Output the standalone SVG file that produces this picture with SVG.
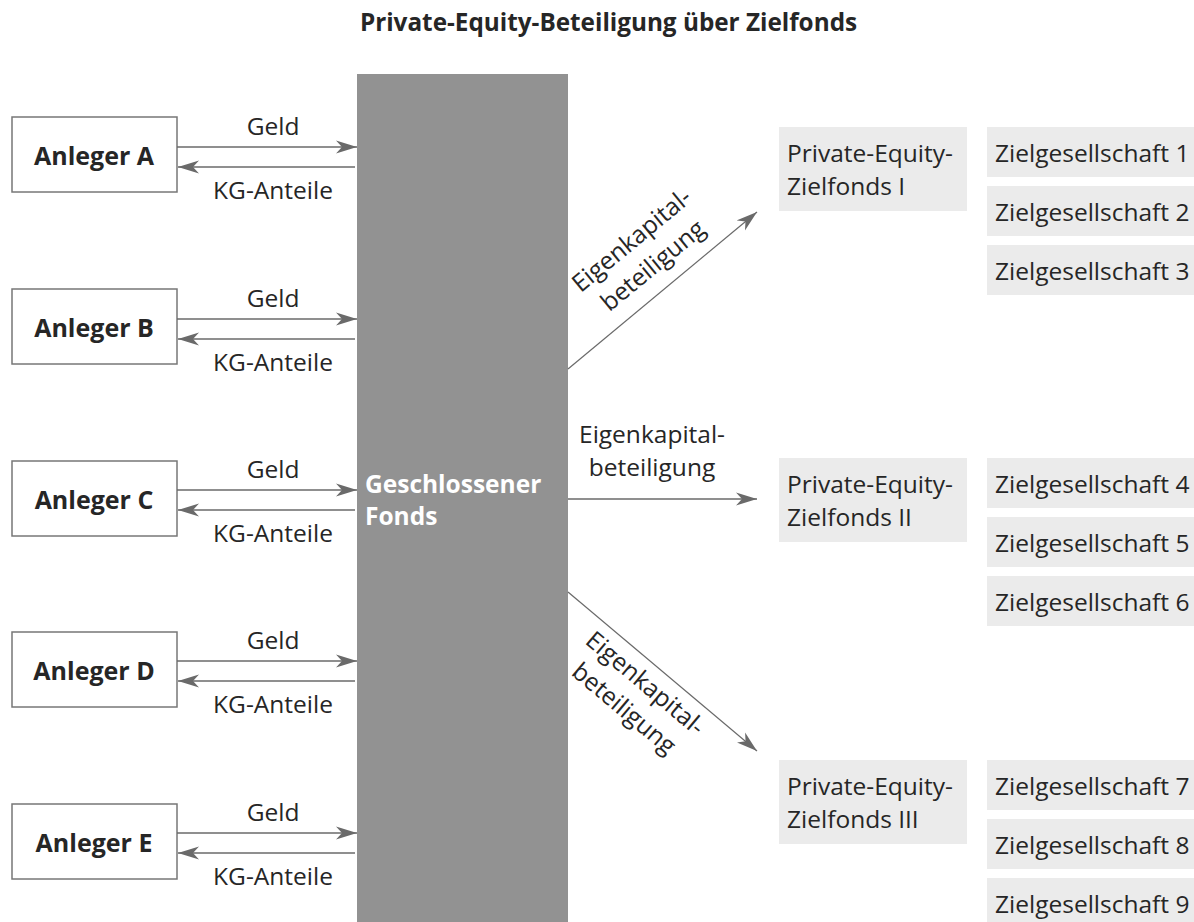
<svg xmlns="http://www.w3.org/2000/svg" width="1194" height="922" viewBox="0 0 1194 922">
<style>
text{font-family:"Open Sans","Noto Sans","Liberation Sans",sans-serif;fill:#262626;font-size:24.5px}
.b{font-weight:bold;font-size:25px}
.t{font-weight:bold;font-size:24.3px}
.w{fill:#ffffff;font-weight:bold;font-size:24.5px}
.inv{fill:#ffffff;stroke:#777777;stroke-width:1.5}
.lt{fill:#ebebeb}
.c{stroke:#6a6a6a;stroke-width:1.5;fill:none}
.d{stroke:#6a6a6a;stroke-width:1.2;fill:none}
</style>
<defs>
<marker id="ah" markerUnits="userSpaceOnUse" markerWidth="22" markerHeight="14" viewBox="0 0 22 14" refX="21" refY="7" orient="auto">
<path d="M0,0.5 L21,7 L0,13.5 L6,7 z" fill="#6a6a6a"/>
</marker>
</defs>
<rect width="1194" height="922" fill="#ffffff"/>
<text class="t" x="608.5" y="31" text-anchor="middle">Private-Equity-Beteiligung über Zielfonds</text>

<g id="fonds">
<rect x="357" y="74" width="211" height="848" fill="#929292"/>
<text class="w" x="365" y="493">Geschlossener</text>
<text class="w" x="365" y="525">Fonds</text>
</g>

<g id="anleger-a"><rect class="inv" x="12" y="117" width="165" height="75"/><text class="b" x="94" y="165" text-anchor="middle">Anleger A</text></g>
<g id="anleger-b"><rect class="inv" x="12" y="289" width="165" height="75"/><text class="b" x="94" y="337" text-anchor="middle">Anleger B</text></g>
<g id="anleger-c"><rect class="inv" x="12" y="461" width="165" height="75"/><text class="b" x="94" y="509" text-anchor="middle">Anleger C</text></g>
<g id="anleger-d"><rect class="inv" x="12" y="632" width="165" height="75"/><text class="b" x="94" y="680" text-anchor="middle">Anleger D</text></g>
<g id="anleger-e"><rect class="inv" x="12" y="804" width="165" height="75"/><text class="b" x="94" y="852" text-anchor="middle">Anleger E</text></g>

<g id="pe1"><rect class="lt" x="779" y="127" width="188" height="84"/><text x="787" y="162">Private-Equity-</text><text x="787" y="195">Zielfonds I</text></g>
<g id="pe2"><rect class="lt" x="779" y="458" width="188" height="84"/><text x="787" y="493">Private-Equity-</text><text x="787" y="526">Zielfonds II</text></g>
<g id="pe3"><rect class="lt" x="779" y="760" width="188" height="84"/><text x="787" y="795">Private-Equity-</text><text x="787" y="828">Zielfonds III</text></g>

<g id="z1"><rect class="lt" x="987" y="127" width="207" height="50"/><text x="995" y="162">Zielgesellschaft 1</text></g>
<g id="z2"><rect class="lt" x="987" y="186" width="207" height="50"/><text x="995" y="221">Zielgesellschaft 2</text></g>
<g id="z3"><rect class="lt" x="987" y="245" width="207" height="50"/><text x="995" y="280">Zielgesellschaft 3</text></g>
<g id="z4"><rect class="lt" x="987" y="458" width="207" height="50"/><text x="995" y="493">Zielgesellschaft 4</text></g>
<g id="z5"><rect class="lt" x="987" y="517" width="207" height="50"/><text x="995" y="552">Zielgesellschaft 5</text></g>
<g id="z6"><rect class="lt" x="987" y="576" width="207" height="50"/><text x="995" y="611">Zielgesellschaft 6</text></g>
<g id="z7"><rect class="lt" x="987" y="760" width="207" height="50"/><text x="995" y="795">Zielgesellschaft 7</text></g>
<g id="z8"><rect class="lt" x="987" y="819" width="207" height="50"/><text x="995" y="854">Zielgesellschaft 8</text></g>
<g id="z9"><rect class="lt" x="987" y="878" width="207" height="50"/><text x="995" y="913">Zielgesellschaft 9</text></g>

<g id="connectors">
<line class="c" x1="177" y1="147" x2="357" y2="147" marker-end="url(#ah)"/>
<line class="c" x1="355" y1="167" x2="178" y2="167" marker-end="url(#ah)"/>
<line class="c" x1="177" y1="319" x2="357" y2="319" marker-end="url(#ah)"/>
<line class="c" x1="355" y1="339" x2="178" y2="339" marker-end="url(#ah)"/>
<line class="c" x1="177" y1="490" x2="357" y2="490" marker-end="url(#ah)"/>
<line class="c" x1="355" y1="510" x2="178" y2="510" marker-end="url(#ah)"/>
<line class="c" x1="177" y1="661" x2="357" y2="661" marker-end="url(#ah)"/>
<line class="c" x1="355" y1="681" x2="178" y2="681" marker-end="url(#ah)"/>
<line class="c" x1="177" y1="833" x2="357" y2="833" marker-end="url(#ah)"/>
<line class="c" x1="355" y1="853" x2="178" y2="853" marker-end="url(#ah)"/>
<line class="d" x1="568" y1="369" x2="757" y2="212" marker-end="url(#ah)"/>
<line class="c" x1="568" y1="499" x2="757" y2="499" marker-end="url(#ah)"/>
<line class="d" x1="568" y1="592" x2="757" y2="751" marker-end="url(#ah)"/>

<text x="273" y="135" text-anchor="middle">Geld</text><text x="273" y="199" text-anchor="middle">KG-Anteile</text>
<text x="273" y="307" text-anchor="middle">Geld</text><text x="273" y="371" text-anchor="middle">KG-Anteile</text>
<text x="273" y="478" text-anchor="middle">Geld</text><text x="273" y="542" text-anchor="middle">KG-Anteile</text>
<text x="273" y="649" text-anchor="middle">Geld</text><text x="273" y="713" text-anchor="middle">KG-Anteile</text>
<text x="273" y="821" text-anchor="middle">Geld</text><text x="273" y="885" text-anchor="middle">KG-Anteile</text>

<g transform="translate(637,246.6) rotate(-39.7)"><text x="0" y="0" text-anchor="middle">Eigenkapital-</text><text x="0" y="33" text-anchor="middle">beteiligung</text></g>
<text x="652" y="443" text-anchor="middle">Eigenkapital-</text><text x="652" y="476" text-anchor="middle">beteiligung</text>
<g transform="translate(640,689.6) rotate(40)"><text x="0" y="0" text-anchor="middle">Eigenkapital-</text><text x="0" y="33" text-anchor="middle">beteiligung</text></g>
</g>
</svg>
